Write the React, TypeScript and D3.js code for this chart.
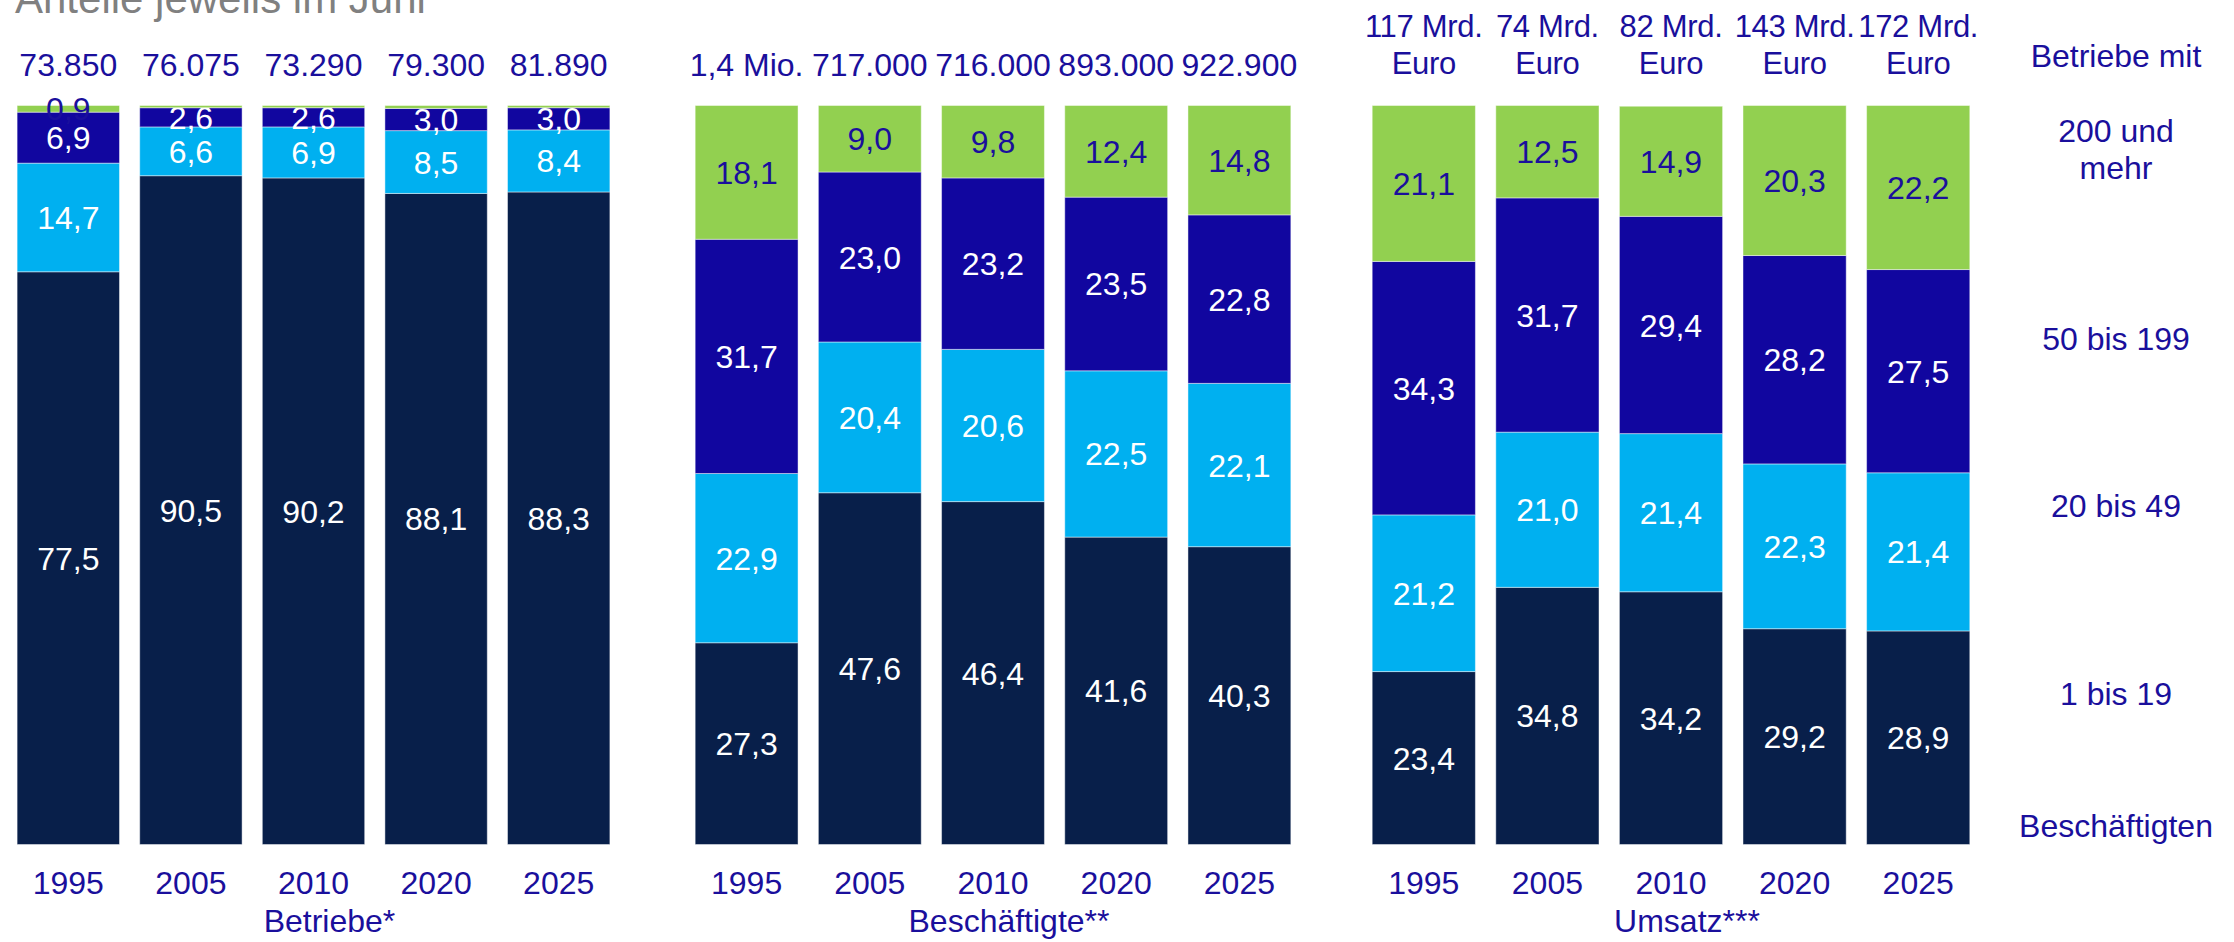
import React from "react";
import * as d3 from "d3";

const years = ["1995", "2005", "2010", "2020", "2025"];
const sizeClasses = ["1 bis 19", "20 bis 49", "50 bis 199", "200 und mehr"];

// Betriebe (shares in %)
const betriebe1to19 = [77.5, 90.5, 90.2, 88.1, 88.3];
const betriebe20to49 = [14.7, 6.6, 6.9, 8.5, 8.4];
const betriebe50to199 = [6.9, 2.6, 2.6, 3.0, 3.0];
const betriebe200plus = [0.9, 0.3, 0.3, 0.4, 0.3];
const betriebeTotals = ["73.850", "76.075", "73.290", "79.300", "81.890"];

// Beschäftigte
const besch1to19 = [27.3, 47.6, 46.4, 41.6, 40.3];
const besch20to49 = [22.9, 20.4, 20.6, 22.5, 22.1];
const besch50to199 = [31.7, 23.0, 23.2, 23.5, 22.8];
const besch200plus = [18.1, 9.0, 9.8, 12.4, 14.8];
const beschTotals = ["1,4 Mio.", "717.000", "716.000", "893.000", "922.900"];

// Umsatz
const umsatz1to19 = [23.4, 34.8, 34.2, 29.2, 28.9];
const umsatz20to49 = [21.2, 21.0, 21.4, 22.3, 21.4];
const umsatz50to199 = [34.3, 31.7, 29.4, 28.2, 27.5];
const umsatz200plus = [21.1, 12.5, 14.9, 20.3, 22.2];
const umsatzTotals = ["117 Mrd.|Euro", "74 Mrd.|Euro", "82 Mrd.|Euro", "143 Mrd.|Euro", "172 Mrd.|Euro"];

const panelTitles = ["Betriebe*", "Beschäftigte**", "Umsatz***"];
const legendLines = [["Betriebe mit"], ["200 und", "mehr"], ["50 bis 199"], ["20 bis 49"], ["1 bis 19"], ["Beschäftigten"]];

const colors = ["#081f4a", "#00b0f0", "#11069f", "#92d050"];
const labelColors = ["#ffffff", "#ffffff", "#ffffff", "#1a0f9c"];
const textColor = "#1a0f9c";
const font = "'Liberation Sans', Arial, sans-serif";

type Panel = {
  title: string;
  series: number[][];
  totals: string[];
  range: [number, number];
};

const panels: Panel[] = [
  { title: panelTitles[0], series: [betriebe1to19, betriebe20to49, betriebe50to199, betriebe200plus], totals: betriebeTotals, range: [7, 620] },
  { title: panelTitles[1], series: [besch1to19, besch20to49, besch50to199, besch200plus], totals: beschTotals, range: [685, 1301] },
  { title: panelTitles[2], series: [umsatz1to19, umsatz20to49, umsatz50to199, umsatz200plus], totals: umsatzTotals, range: [1362, 1980] },
];

const fmt = (v: number) => v.toFixed(1).replace(".", ",");

export default function App() {
  const W = 2234;
  const H = 942;
  const y = d3.scaleLinear().domain([0, 100]).range([844.5, 105.5]);

  return (
    <svg width={W} height={H} style={{ position: "absolute", left: 0, top: 0, background: "#fff" }} fontFamily={font}>
      <text x={15} y={13} fontSize={42} fill="#808080">Anteile jeweils im Juni</text>
      {panels.map((p, pi) => {
        const x = d3.scaleBand<string>().domain(years).range(p.range).paddingInner(0.165).paddingOuter(0.0825);
        const rows = years.map((yr, i) => {
          const obj: any = { year: yr };
          sizeClasses.forEach((k, si) => (obj[k] = p.series[si][i]));
          return obj;
        });
        const stack = d3.stack<any>().keys(sizeClasses)(rows);
        const mid = (x("2010") as number) + x.bandwidth() / 2;
        return (
          <g key={pi}>
            {stack.map((layer, si) => (
              <g key={si}>
                {layer.map((d, i) => {
                  const x0 = x(years[i]) as number;
                  const top = y(d[1]);
                  const bot = y(d[0]);
                  const v = d[1] - d[0];
                  return (
                    <g key={i}>
                      <rect x={x0} y={top} width={x.bandwidth()} height={bot - top} fill={colors[si]} stroke="#ffffff" strokeOpacity={0.45} strokeWidth={1} />
                      {v >= 0.5 && (
                        <text x={x0 + x.bandwidth() / 2} y={(top + bot) / 2} dy="0.36em" textAnchor="middle" fontSize={32} fill={labelColors[si]}>
                          {fmt(v)}
                        </text>
                      )}
                    </g>
                  );
                })}
              </g>
            ))}
            {years.map((yr, i) => {
              const cx = (x(yr) as number) + x.bandwidth() / 2;
              const parts = p.totals[i].split("|");
              return (
                <g key={yr}>
                  <text x={cx} y={894} textAnchor="middle" fontSize={32} fill={textColor}>{yr}</text>
                  {parts.length === 1 ? (
                    <text x={cx} y={76} textAnchor="middle" fontSize={32} fill={textColor}>{parts[0]}</text>
                  ) : (
                    parts.map((t, li) => (
                      <text key={li} x={cx} y={37 + li * 36.5} textAnchor="middle" fontSize={31} letterSpacing={-0.3} fill={textColor}>{t}</text>
                    ))
                  )}
                </g>
              );
            })}
            <text x={mid + 16} y={932} textAnchor="middle" fontSize={32} fill={textColor}>{p.title}</text>
          </g>
        );
      })}
      {(() => {
        const baselines = [[67], [142, 179], [350], [517], [705], [837]];
        return legendLines.map((lines, gi) =>
          lines.map((t, li) => (
            <text key={gi + "-" + li} x={2116} y={baselines[gi][li]} textAnchor="middle" fontSize={32} fill={textColor}>{t}</text>
          ))
        );
      })()}
    </svg>
  );
}
